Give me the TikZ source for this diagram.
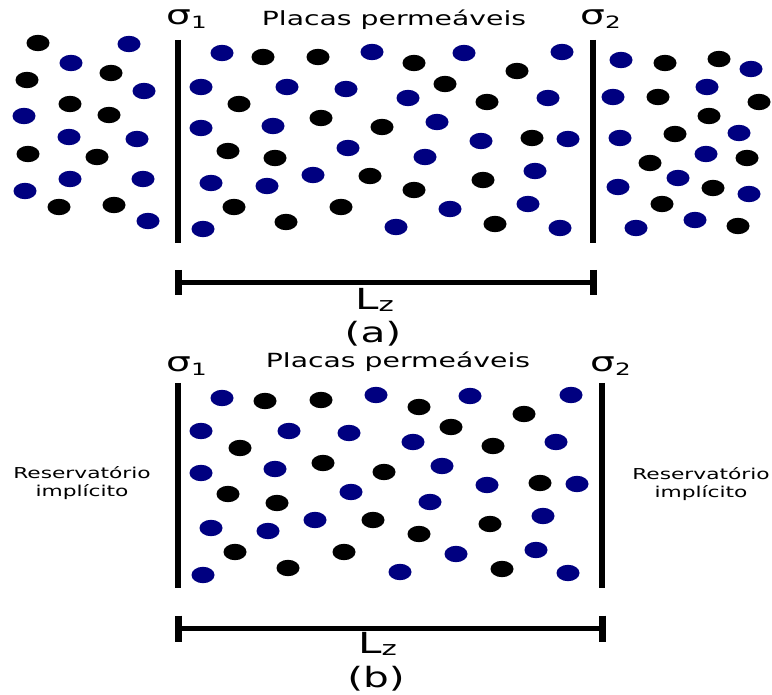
\documentclass[tikz,border=0pt]{standalone}
\usepackage{fontspec}
\setmainfont{DejaVu Sans}
\usetikzlibrary{positioning}
\definecolor{ionblue}{RGB}{0,0,128}
\newcommand{\hs}[1]{\scalebox{1.45}[1]{#1}}
\newcommand{\sig}[1]{\hs{{\fontsize{27}{27}\selectfont σ}\raisebox{-4pt}{\fontsize{17}{17}\selectfont #1}}}
\newcommand{\lz}{\hs{{\fontsize{29}{29}\selectfont L}\raisebox{-2pt}{\fontsize{20}{20}\selectfont z}}}

\begin{document}
\begin{tikzpicture}[x=1pt, y=-1pt,
    wall/.style={line width=6pt},
    barline/.style={line width=4.5pt},
    tickline/.style={line width=7pt},
    lbl/.style={inner sep=0pt, anchor=base west},
    ctr/.style={inner sep=0pt, anchor=base}]
  \useasboundingbox (0,0) rectangle (772,695);

  % (a) paredes e barra
  \coordinate (a1top) at (178,40);  \coordinate (a1bot) at (178,243);
  \coordinate (a2top) at (593,40);  \coordinate (a2bot) at (593,243);
  \coordinate (aleft) at (178,282.5); \coordinate (aright) at (593,282.5);
  \draw[wall] (a1top) -- (a1bot);
  \draw[wall] (a2top) -- (a2bot);
  \draw[barline] (aleft) -- (aright);
  \draw[tickline] (aleft) ++(0,-12.5) -- ++(0,25);
  \draw[tickline] (aright) ++(0,-12.5) -- ++(0,25);

  \node[lbl] (sa1) at (166,25) {\sig{1}};
  \node[ctr] (placasa) at (394,26) {\hs{\fontsize{19.5}{20}\selectfont Placas permeáveis}};
  \node[lbl] (sa2) at (580,25) {\sig{2}};
  \node[lbl] (lza) at (355,310) {\lz};
  \node[ctr] (capa) at (373,343) {\hs{\fontsize{28}{28}\selectfont (a)}};

  % (a) particulas
  \foreach \px/\py in {129/44,71/63,144/91,24/116,69/137,137/139,70/179,143/179,25/191,148/221,
      222/53,372/52,201/87,287/87,346/89,408/98,201/128,273/126,348/148,211/183,267/186,313/175,
      203/229,396/227,464/53,562/52,548/98,437/122,481/141,568/139,425/157,535/171,450/209,
      528/204,560/228,621/60,751/69,613/97,707/87,620/138,739/133,706/154,678/178,618/187,
      749/194,695/220,636/228}
    \fill[ionblue] (\px,\py) ellipse [x radius=11.5pt, y radius=8.2pt];
  \foreach \px/\py in {38/43,27/80,111/73,70/104,109/115,28/154,97/157,59/207,114/205,
      263/57,318/57,239/104,321/118,382/127,228/151,275/158,370/176,234/207,341/207,286/222,
      414/63,517/71,445/84,487/102,532/138,483/180,414/190,495/224,
      665/63,719/59,658/97,759/102,709/116,675/134,747/158,650/163,713/188,662/204,738/226}
    \fill[black] (\px,\py) ellipse [x radius=11.5pt, y radius=8.2pt];

  % (b) paredes e barra
  \coordinate (b1top) at (178,383); \coordinate (b1bot) at (178,588);
  \coordinate (b2top) at (602,383); \coordinate (b2bot) at (602,588);
  \coordinate (bleft) at (178,628.5); \coordinate (bright) at (602,628.5);
  \draw[wall] (b1top) -- (b1bot);
  \draw[wall] (b2top) -- (b2bot);
  \draw[barline] (bleft) -- (bright);
  \draw[tickline] (bleft) ++(0,-13) -- ++(0,26);
  \draw[tickline] (bright) ++(0,-13) -- ++(0,26);

  \node[lbl] (sb1) at (166,372) {\sig{1}};
  \node[ctr] (placasb) at (398,368) {\hs{\fontsize{19.5}{20}\selectfont Placas permeáveis}};
  \node[lbl] (sb2) at (590,372) {\sig{2}};
  \node[lbl] (lzb) at (358,653) {\lz};
  \node[ctr] (capb) at (376,687) {\hs{\fontsize{28}{28}\selectfont (b)}};
  \node[inner sep=0pt, align=center, font=\fontsize{15}{18}\selectfont] (resl) at (82,483)
    {\hs{Reservatório}\\\hs{implícito}};
  \node[inner sep=0pt, align=center, font=\fontsize{15}{18}\selectfont] (resr) at (701,484)
    {\hs{Reservatório}\\\hs{implícito}};

  % (b) particulas
  \foreach \px/\py in {222/398,376/395,201/431,289/431,349/433,201/473,275/469,351/492,
      211/528,268/531,315/520,203/575,470/396,571/395,413/442,556/442,442/466,487/485,
      577/484,430/502,543/516,456/554,536/550,400/572,568/573}
    \fill[ionblue] (\px,\py) ellipse [x radius=11.5pt, y radius=8.2pt];
  \foreach \px/\py in {265/401,321/400,240/448,323/463,384/472,228/494,277/503,373/520,
      235/552,344/552,288/568,419/407,524/414,451/427,493/446,540/483,490/524,419/534,502/569}
    \fill[black] (\px,\py) ellipse [x radius=11.5pt, y radius=8.2pt];
\end{tikzpicture}
\end{document}
